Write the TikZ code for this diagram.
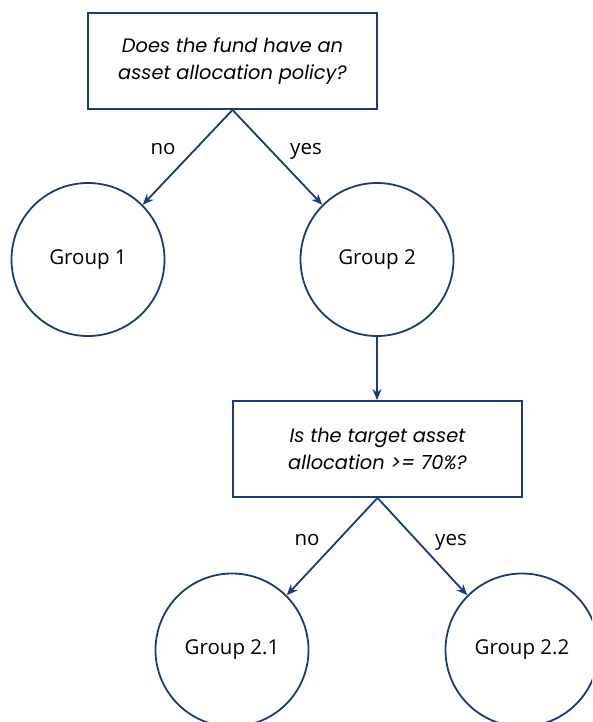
\documentclass[tikz,border=0pt]{standalone}
\usepackage{fontspec}
\setmainfont{Open Sans}
\newfontfamily\boxfont{Poppins}
\usetikzlibrary{arrows.meta}
\definecolor{navy}{HTML}{1B3A7E}
\tikzset{
  qbox/.style={draw=navy, line width=1.8pt, minimum width=289pt, minimum height=96pt,
    align=center, font=\boxfont\fontsize{19.4}{26.5}\selectfont\itshape, inner sep=0pt},
  grp/.style={draw=navy, line width=1.8pt, circle, minimum size=153pt, inner sep=0pt,
    font=\fontsize{20.5}{24}\selectfont},
  conn/.style={draw=navy, line width=1.8pt, -{Stealth[length=11pt,width=9pt]}},
  lbl/.style={font=\fontsize{20.5}{24}\selectfont, inner sep=0pt, anchor=base}
}
\begin{document}
\begin{tikzpicture}[x=1pt,y=-1pt]
\clip (0,0) rectangle (592,722);
\node[qbox] (q1) at (232.5,61) {Does the fund have an\\asset allocation policy?};
\node[grp] (g1) at (88,259.5) {Group 1};
\node[grp] (g2) at (377,259.5) {Group 2};
\node[qbox] (q2) at (377.5,449) {Is the target asset\\allocation >= 70\%?};
\node[grp] (g21) at (232,650) {Group 2.1};
\node[grp] (g22) at (522,650) {Group 2.2};
\draw[conn] (q1.south) -- (g1.45);
\draw[conn] (q1.south) -- (g2.135);
\draw[conn] (g2.south) -- (q2.north -| g2.south);
\draw[conn] (q2.south) -- (g21.45);
\draw[conn] (q2.south) -- (g22.135);
\node[lbl] (l1) at (163,155) {no};
\node[lbl] (l2) at (306,155) {yes};
\node[lbl] (l3) at (307,545) {no};
\node[lbl] (l4) at (451,545) {yes};
\end{tikzpicture}
\end{document}
